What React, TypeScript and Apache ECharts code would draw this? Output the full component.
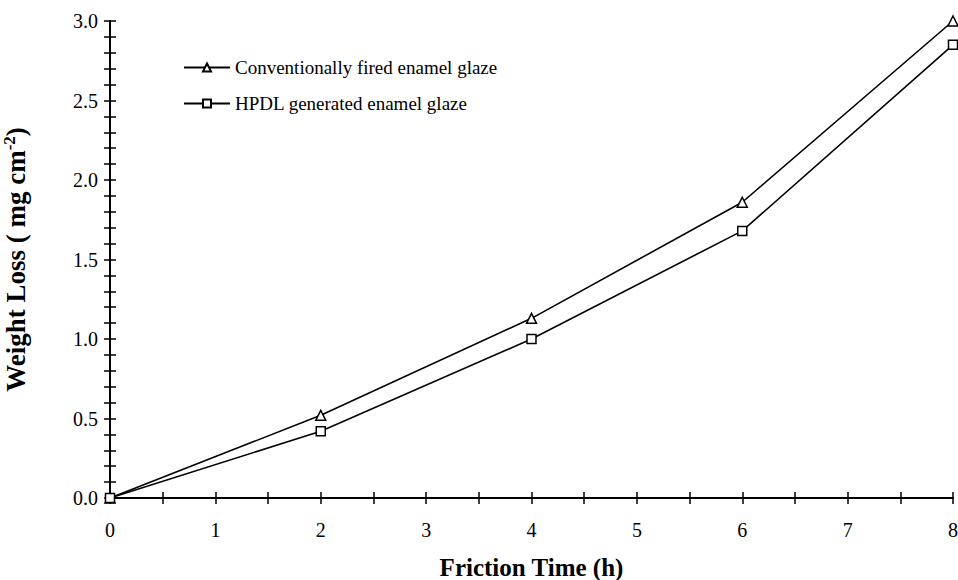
import React, { useEffect, useRef } from "react";
import * as echarts from "echarts";

const frictionTime = [0, 2, 4, 6, 8];
const conventionalLoss = [0, 0.52, 1.13, 1.86, 3.0];
const hpdlLoss = [0, 0.42, 1.0, 1.68, 2.85];
const seriesNames = ["Conventionally fired enamel glaze", "HPDL generated enamel glaze"];

const FONT = "'Liberation Serif', 'Times New Roman', serif";

export default function App() {
  const ref = useRef<HTMLDivElement>(null);
  useEffect(() => {
    if (!ref.current) return;
    const chart = echarts.init(ref.current, undefined, { renderer: "svg" });
    const axisLine = { show: true, lineStyle: { color: "#000", width: 2 } };
    const tick = { show: true, inside: true, length: 6, lineStyle: { color: "#000", width: 1.5 } };
    const minor = (n: number) => ({ show: true, splitNumber: n, length: 6, lineStyle: { color: "#000", width: 1.5 } });
    chart.setOption({
      animation: false,
      backgroundColor: "#fff",
      textStyle: { fontFamily: FONT, color: "#000" },
      grid: { left: 110, right: 5, top: 21, bottom: 82, containLabel: false, outerBoundsMode: "none" },
      legend: {
        orient: "vertical",
        left: 178,
        top: 53,
        itemWidth: 46,
        itemHeight: 10,
        itemGap: 17,
        textStyle: { fontFamily: FONT, fontSize: 19, color: "#000" },
        data: seriesNames,
      },
      xAxis: [
        {
          type: "value",
          min: 0,
          max: 8,
          interval: 1,
          axisLine,
          axisTick: tick,
          minorTick: minor(2),
          splitLine: { show: false },
          axisLabel: { fontFamily: FONT, fontSize: 20, color: "#000", margin: 22 },
          name: "Friction Time (h)",
          nameLocation: "middle",
          nameGap: 57,
          nameTextStyle: { fontFamily: FONT, fontSize: 25, fontWeight: "bold", color: "#000" },
        },
        {
          type: "value",
          position: "top",
          min: 0,
          max: 8,
          interval: 1,
          axisLine,
          axisTick: tick,
          minorTick: minor(2),
          splitLine: { show: false },
          axisLabel: { show: false },
        },
      ],
      yAxis: [
        {
          type: "value",
          min: 0,
          max: 3,
          interval: 0.5,
          axisLine,
          axisTick: tick,
          minorTick: minor(5),
          splitLine: { show: false },
          axisLabel: {
            fontFamily: FONT,
            fontSize: 20,
            color: "#000",
            margin: 12,
            formatter: (v: number) => v.toFixed(1),
          },
          name: "{b|Weight Loss ( mg cm}{s|-2}{b|)}",
          nameLocation: "middle",
          nameGap: 80,
          nameTextStyle: {
            rich: {
              b: { fontFamily: FONT, fontSize: 27, fontWeight: "bold", color: "#000" },
              s: { fontFamily: FONT, fontSize: 17, fontWeight: "bold", color: "#000", verticalAlign: "top", padding: [0, 0, 12, 0] },
            },
          },
        },
        {
          type: "value",
          position: "right",
          min: 0,
          max: 3,
          interval: 0.5,
          axisLine,
          axisTick: tick,
          minorTick: minor(5),
          splitLine: { show: false },
          axisLabel: { show: false },
        },
      ],
      series: [
        {
          name: seriesNames[0],
          type: "line",
          data: frictionTime.map((t, i) => [t, conventionalLoss[i]]),
          symbol: "triangle",
          symbolSize: 10,
          clip: false,
          lineStyle: { color: "#000", width: 1.6 },
          itemStyle: { color: "#fff", borderColor: "#000", borderWidth: 1.5 },
        },
        {
          name: seriesNames[1],
          type: "line",
          data: frictionTime.map((t, i) => [t, hpdlLoss[i]]),
          symbol: "rect",
          symbolSize: 9,
          clip: false,
          lineStyle: { color: "#000", width: 1.6 },
          itemStyle: { color: "#fff", borderColor: "#000", borderWidth: 1.5 },
        },
      ],
    });
    return () => chart.dispose();
  }, []);
  return <div ref={ref} style={{ position: "fixed", left: 0, top: 0, width: 958, height: 580 }} />;
}
